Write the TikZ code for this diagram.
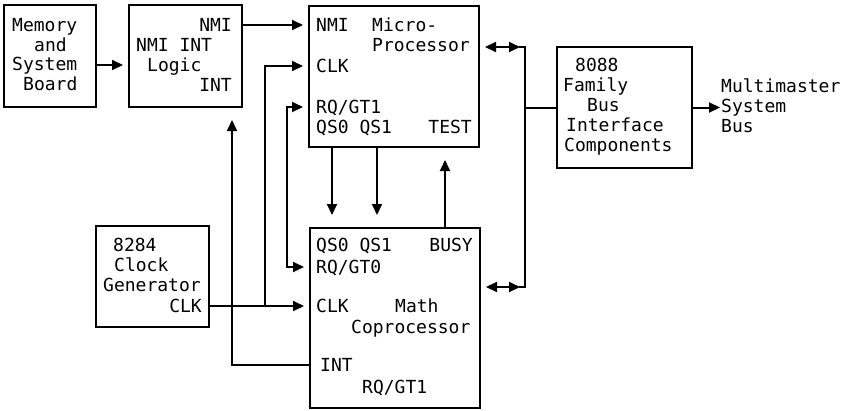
\documentclass[tikz,border=0pt]{standalone}
\usepackage{fontspec}
\setmainfont{DejaVu Sans Mono}
\usetikzlibrary{arrows.meta, positioning, calc}

\begin{document}
\begin{tikzpicture}[
    x=1pt, y=-1pt,
    font=\fontsize{18}{20}\selectfont,
    block/.style={
        rectangle,
        draw,
        line width=2pt,
        inner sep=0pt
    },
    lbl/.style={
        inner sep=0pt,
        text height=13.1pt,
        text depth=0pt
    },
    mlbl/.style={
        inner sep=0pt,
        align=left
    },
    line/.style={line width=2pt},
    arrow/.style={-{Triangle[length=11pt, width=10pt]}, line width=2pt, shorten >=5pt},
    varrow/.style={arrow, shorten >=12pt},
    bidir/.style={{Triangle[length=11pt, width=10pt]}-{Triangle[length=11pt, width=10pt]}, line width=2pt}
]

\useasboundingbox (0,0) rectangle (846,410);

\node[block, minimum width=92pt, minimum height=102pt] (mem) at (50,56) {};
\node[lbl, anchor=west] (memmem) at (12,25) {Memory};
\node[lbl, anchor=west] (memand) at (34,45) {and};
\node[lbl, anchor=west] (memsys) at (12,64) {System};
\node[lbl, anchor=west] (memboard) at (23,84) {Board};

\node[block, minimum width=113pt, minimum height=102pt] (nmi) at (185.5,56) {};
\node[lbl, anchor=east] (nminmi) at (232,25) {NMI};
\node[lbl, anchor=west] (nmititle) at (136,45) {NMI INT};
\node[lbl, anchor=west] (nmilogic) at (147,65) {Logic};
\node[lbl, anchor=east] (nmiint) at (232,85) {INT};

\node[block, minimum width=170pt, minimum height=141pt] (mp) at (394,76.5) {};
\node[lbl, anchor=west] (mpnmi) at (316,25) {NMI};
\node[lbl, anchor=west] (mpmicro) at (372,25) {Micro-};
\node[lbl, anchor=west] (mpproc) at (372,45) {Processor};
\node[lbl, anchor=west] (mpclk) at (316,66) {CLK};
\node[lbl, anchor=west] (mprq) at (316,107) {RQ/GT1};
\node[lbl, anchor=west] (mpqs) at (316,127) {QS0 QS1};
\node[lbl, anchor=east] (mptest) at (472,127) {TEST};

\node[block, minimum width=170pt, minimum height=180pt] (ndp) at (395,318) {};
\node[lbl, anchor=west] (ndpqs) at (316,245) {QS0 QS1};
\node[lbl, anchor=east] (ndpbusy) at (473,245) {BUSY};
\node[lbl, anchor=west] (ndprq) at (316,267) {RQ/GT0};
\node[lbl, anchor=west] (ndpclk) at (316,306) {CLK};
\node[lbl, anchor=west] (ndpmath) at (395,306) {Math};
\node[lbl, anchor=west] (ndpcop) at (351,327) {Coprocessor};
\node[lbl, anchor=west] (ndpint) at (320,365) {INT};
\node[lbl, anchor=west] (ndprqb) at (362,387) {RQ/GT1};

\node[block, minimum width=113pt, minimum height=101pt] (clk) at (152.5,276.5) {};
\node[lbl, anchor=west] (clknum) at (113,245) {8284};
\node[lbl, anchor=west] (clkclock) at (114,265) {Clock};
\node[lbl, anchor=west] (clkgen) at (103,285) {Generator};
\node[lbl, anchor=east] (clkclk) at (202,306) {CLK};

\node[block, minimum width=135pt, minimum height=121pt] (biu) at (624.5,107.5) {};
\node[lbl, anchor=west] (biunum) at (575,65) {8088};
\node[lbl, anchor=west] (biufam) at (563,85) {Family};
\node[lbl, anchor=west] (biubus) at (587,105) {Bus};
\node[lbl, anchor=west] (biuif) at (566,125) {Interface};
\node[lbl, anchor=west] (biucomp) at (564,145) {Components};

\node[mlbl, anchor=west] (mmbus) at (721,106) {Multimaster\\System\\Bus};

\coordinate (cj) at (265,306);
\coordinate (rq) at (287,187);
\coordinate (bt) at (525,47);
\coordinate (bb) at (525,287);

\draw[arrow] ([yshift=-9pt]mem.east) -- ([yshift=-9pt]nmi.west);
\draw[arrow] (nmi.east |- nminmi) -- (mp.west |- nminmi);
\draw[arrow] (clk.east |- clkclk) -- (ndp.west |- clkclk);
\draw[arrow] (cj) |- (mp.west |- mpclk);
\draw[bidir, shorten <=5pt, shorten >=5pt] (mp.west |- mprq) -| (rq) |- (ndp.west |- ndprq);
\draw[varrow] (ndp.west |- ndpint) -| ([xshift=46.5pt]nmi.south);

\draw[varrow] ([xshift=-62pt]mp.south) -- ([xshift=-63pt]ndp.north);
\draw[varrow] ([xshift=-17pt]mp.south) -- ([xshift=-18pt]ndp.north);
\draw[varrow] ([xshift=50pt]ndp.north) -- ([xshift=51pt]mp.south);

\draw[line] ([xshift=-6pt]bt) -- (bt) -- (bb) -- ([xshift=-6pt]bb);
\draw[line] (bt |- biu.west) -- (biu.west);
\draw[bidir, shorten <=5pt] (mp.east |- bt) -- ([xshift=-5pt]bt);
\draw[bidir, shorten <=5pt] (ndp.east |- bb) -- ([xshift=-5pt]bb);
\draw[arrow, shorten >=1pt] (biu.east) -- (mmbus.west |- biu.east);

\end{tikzpicture}
\end{document}
